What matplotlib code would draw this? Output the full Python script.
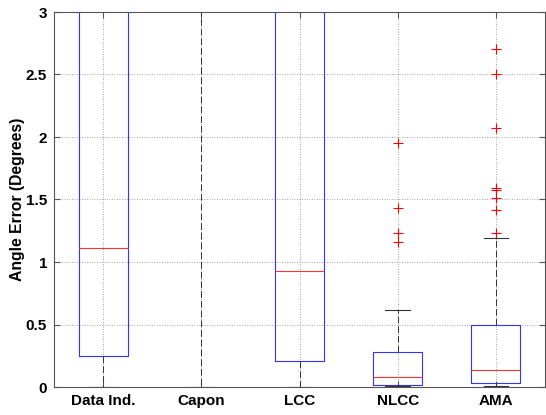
import matplotlib
matplotlib.use("Agg")
import matplotlib.pyplot as plt

plt.rcParams['font.family'] = ['Liberation Sans', 'DejaVu Sans']

categories = ["Data Ind.", "Capon", "LCC", "NLCC", "AMA"]
whislo = [0.0, 0.0, 0.0, 0.005, 0.005]
q1 = [0.248, 3.5, 0.208, 0.013, 0.03]
med = [1.112, 4.0, 0.928, 0.08, 0.14]
q3 = [4.0, 5.0, 4.0, 0.277, 0.496]
whishi = [6.0, 6.0, 6.0, 0.616, 1.19]
outliers = [[], [], [],
            [1.95, 1.43, 1.23, 1.157],
            [2.70, 2.50, 2.07, 1.59, 1.576, 1.51, 1.416, 1.23]]
yticks = [0, 0.5, 1, 1.5, 2, 2.5, 3]
yticklabels = ["0", "0.5", "1", "1.5", "2", "2.5", "3"]

stats = []
for i, c in enumerate(categories):
    stats.append(dict(label=c, whislo=whislo[i], q1=q1[i], med=med[i],
                      q3=q3[i], whishi=whishi[i], fliers=outliers[i]))

fig = plt.figure(figsize=(5.46, 4.15), dpi=100)
ax = fig.add_axes([54/546, 1-387/415, 491/546, 375/415])
ax.bxp(stats, positions=range(1, 6), widths=0.5, showfliers=True,
       boxprops=dict(color='#3333ff', linewidth=0.8),
       medianprops=dict(color='#ff3333', linewidth=0.8),
       whiskerprops=dict(color='#333333', linestyle=(0, (7, 3)), linewidth=0.7),
       capprops=dict(color='#333333', linewidth=0.8),
       flierprops=dict(marker='+', markeredgecolor='red', markersize=7,
                       markeredgewidth=0.8, linestyle='none'),
       capwidths=0.25)
ax.set_xlim(0.5, 5.5)
ax.set_ylim(0, 3)
ax.set_yticks(yticks)
ax.set_yticklabels(yticklabels)
ax.set_xticks(range(1, 6))
ax.set_xticklabels(categories)
ax.grid(True, linestyle=(0, (1, 2)), color='#888888', linewidth=0.6)
ax.set_axisbelow(True)
ax.tick_params(direction='in', top=True, right=True, length=4, color='#555555',
               labelsize=11, pad=5)
for lab in ax.get_xticklabels() + ax.get_yticklabels():
    lab.set_fontweight('bold')
for s in ax.spines.values():
    s.set_color('#555555')
ax.set_ylabel("Angle Error (Degrees)", fontsize=11.3, fontweight='bold')
ax.yaxis.set_label_coords(-(54 - 25) / 491, 0.5)
fig.savefig("out.png", dpi=100)
